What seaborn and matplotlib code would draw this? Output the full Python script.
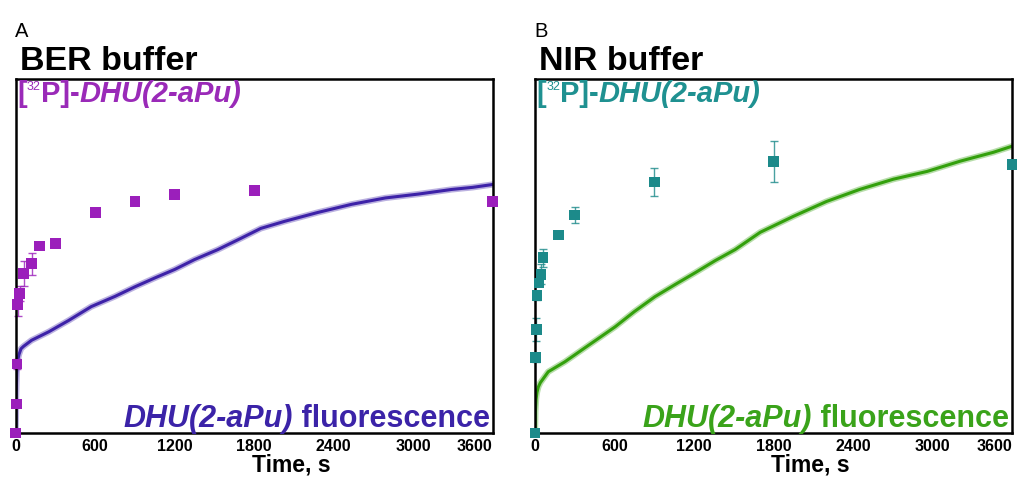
import numpy as np
import matplotlib
matplotlib.use("Agg")
import matplotlib.pyplot as plt
import seaborn as sns
from matplotlib.ticker import MultipleLocator
from matplotlib.transforms import IdentityTransform

# [32P] time points (s) and normalised product
ber_t = [0, 5, 10, 15, 30, 60, 120, 180, 300, 600, 900, 1200, 1800, 3600]
ber_y = [0.0, 0.082, 0.195, 0.363, 0.394, 0.450, 0.478, 0.528, 0.535, 0.622, 0.654, 0.674, 0.686, 0.654]
ber_err = [0, 0.006, 0.013, 0.033, 0.020, 0.035, 0.031, 0.008, 0.005, 0.006, 0.006, 0.006, 0.012, 0.006]

nir_t = [0, 5, 10, 15, 30, 45, 60, 180, 300, 900, 1800, 3600]
nir_y = [0.0, 0.213, 0.292, 0.388, 0.424, 0.448, 0.495, 0.559, 0.616, 0.709, 0.767, 0.759]
nir_err = [0, 0.012, 0.033, 0.012, 0.010, 0.028, 0.025, 0.006, 0.022, 0.039, 0.057, 0.006]

# fluorescence traces
ber_fl_t = [0, 3, 8, 15, 25, 40, 60, 120, 250, 400, 570, 750, 900, 1050, 1200, 1350,
            1525, 1700, 1850, 2030, 2280, 2535, 2790, 3040, 3290, 3450, 3600]
ber_fl_y = [0, 0.10, 0.17, 0.205, 0.222, 0.238, 0.245, 0.262, 0.286, 0.318, 0.357, 0.386,
            0.413, 0.438, 0.462, 0.490, 0.518, 0.550, 0.578, 0.598, 0.623, 0.646, 0.664,
            0.675, 0.688, 0.694, 0.702]

nir_fl_t = [0, 3, 8, 15, 25, 40, 100, 225, 355, 605, 750, 905, 1060, 1210, 1360, 1510,
            1700, 1950, 2200, 2450, 2705, 2960, 3210, 3460, 3600]
nir_fl_y = [0, 0.06, 0.095, 0.115, 0.130, 0.142, 0.173, 0.201, 0.235, 0.300, 0.343, 0.385,
            0.420, 0.453, 0.487, 0.518, 0.567, 0.612, 0.654, 0.688, 0.717, 0.739, 0.768,
            0.793, 0.810]

xticks = [0, 600, 1200, 1800, 2400, 3000, 3600]

sns.set_style("white")
plt.rcParams["font.family"] = ["Liberation Sans", "DejaVu Sans"]
plt.rcParams["text.color"] = "black"
plt.rcParams["xtick.color"] = "black"
plt.rcParams["axes.labelcolor"] = "black"

W, H = 1019, 493
fig = plt.figure(figsize=(W / 100, H / 100), dpi=100)


def put_parts(x_px, y_px, parts, align="left"):
    # place several text pieces one after the other on the same baseline (pixels from top-left)
    r = fig.canvas.get_renderer()
    texts = []
    for s, kw, dy in parts:
        t = fig.text(0, 0, s, transform=IdentityTransform(), va="baseline", ha="left", **kw)
        texts.append((t, dy))
    widths = [t.get_window_extent(r).width for t, _ in texts]
    x = x_px if align == "left" else x_px - sum(widths)
    for (t, dy), w in zip(texts, widths):
        t.set_position((x, H - y_px + dy))
        x += w


panels = [
    dict(left=15.7, t=ber_t, y=ber_y, err=ber_err, ft=ber_fl_t, fy=ber_fl_y,
         mcol="#9b1fbb", lcol="#3d22a8", tcol="#9a2ab8", bcol="#3b23a8",
         letter="A", title="BER buffer"),
    dict(left=535, t=nir_t, y=nir_y, err=nir_err, ft=nir_fl_t, fy=nir_fl_y,
         mcol="#1c8a8a", lcol="#33a00c", tcol="#1f9191", bcol="#3aa31a",
         letter="B", title="NIR buffer"),
]

top, bottom, width = 79, 433, 477
for p in panels:
    ax = fig.add_axes([p["left"] / W, 1 - bottom / H, width / W, (bottom - top) / H])

    # fuzzy trace: light wide line under the main one
    sns.lineplot(x=p["ft"], y=p["fy"], ax=ax, color=p["lcol"], linewidth=4.5, alpha=0.35,
                 estimator=None)
    sns.lineplot(x=p["ft"], y=p["fy"], ax=ax, color=p["lcol"], linewidth=2.2, estimator=None)

    ax.errorbar(p["t"], p["y"], yerr=p["err"], fmt="none", ecolor=p["mcol"], elinewidth=1,
                capsize=3, capthick=1, alpha=0.8, clip_on=False)
    sns.scatterplot(x=p["t"], y=p["y"], ax=ax, marker="s", s=60, color=p["mcol"],
                    edgecolor="none", clip_on=False, zorder=4)

    ax.set_xlim(0, 3600)
    ax.set_ylim(0, 1)
    ax.set_yticks([])
    ax.set_ylabel("")
    ax.set_xticks(xticks)
    ax.xaxis.set_minor_locator(MultipleLocator(300))
    ax.tick_params(axis="x", which="major", direction="in", length=5, width=1.5,
                   labelsize=11.5, pad=4)
    ax.tick_params(axis="x", which="minor", direction="in", length=3, width=1.2)
    labels = ax.get_xticklabels()
    for lab in labels:
        lab.set_fontweight("bold")
    labels[-1].set_ha("right")

    for sp in ax.spines.values():
        sp.set_linewidth(1.8)
        sp.set_color("black")

    ax.set_xlabel("Time, s", fontsize=16.5, fontweight="bold")
    ax.xaxis.label.set_va("baseline")
    ax.xaxis.set_label_coords(0.578, -0.108)

    x0 = p["left"]
    fig.text((x0 - 0.5) / W, 1 - 37 / H, p["letter"], fontsize=14.5, va="baseline")
    fig.text((x0 + 4) / W, 1 - 70 / H, p["title"], fontsize=24.5, fontweight="bold",
             va="baseline")

    put_parts(x0 + 1.5, 102, [
        ("[", dict(fontsize=21, fontweight="bold", color=p["tcol"]), 0),
        ("32", dict(fontsize=9, color=p["tcol"]), 12),
        ("P]-", dict(fontsize=21, fontweight="bold", color=p["tcol"]), 0),
        ("DHU(2-aPu)", dict(fontsize=21, fontweight="bold", style="italic", color=p["tcol"]), 0),
    ])
    put_parts(x0 + width - 3, 427, [
        ("DHU(2-aPu)", dict(fontsize=22, fontweight="bold", style="italic", color=p["bcol"]), 0),
        (" fluorescence", dict(fontsize=22, fontweight="bold", color=p["bcol"]), 0),
    ], align="right")

fig.savefig("out.png", dpi=100)
